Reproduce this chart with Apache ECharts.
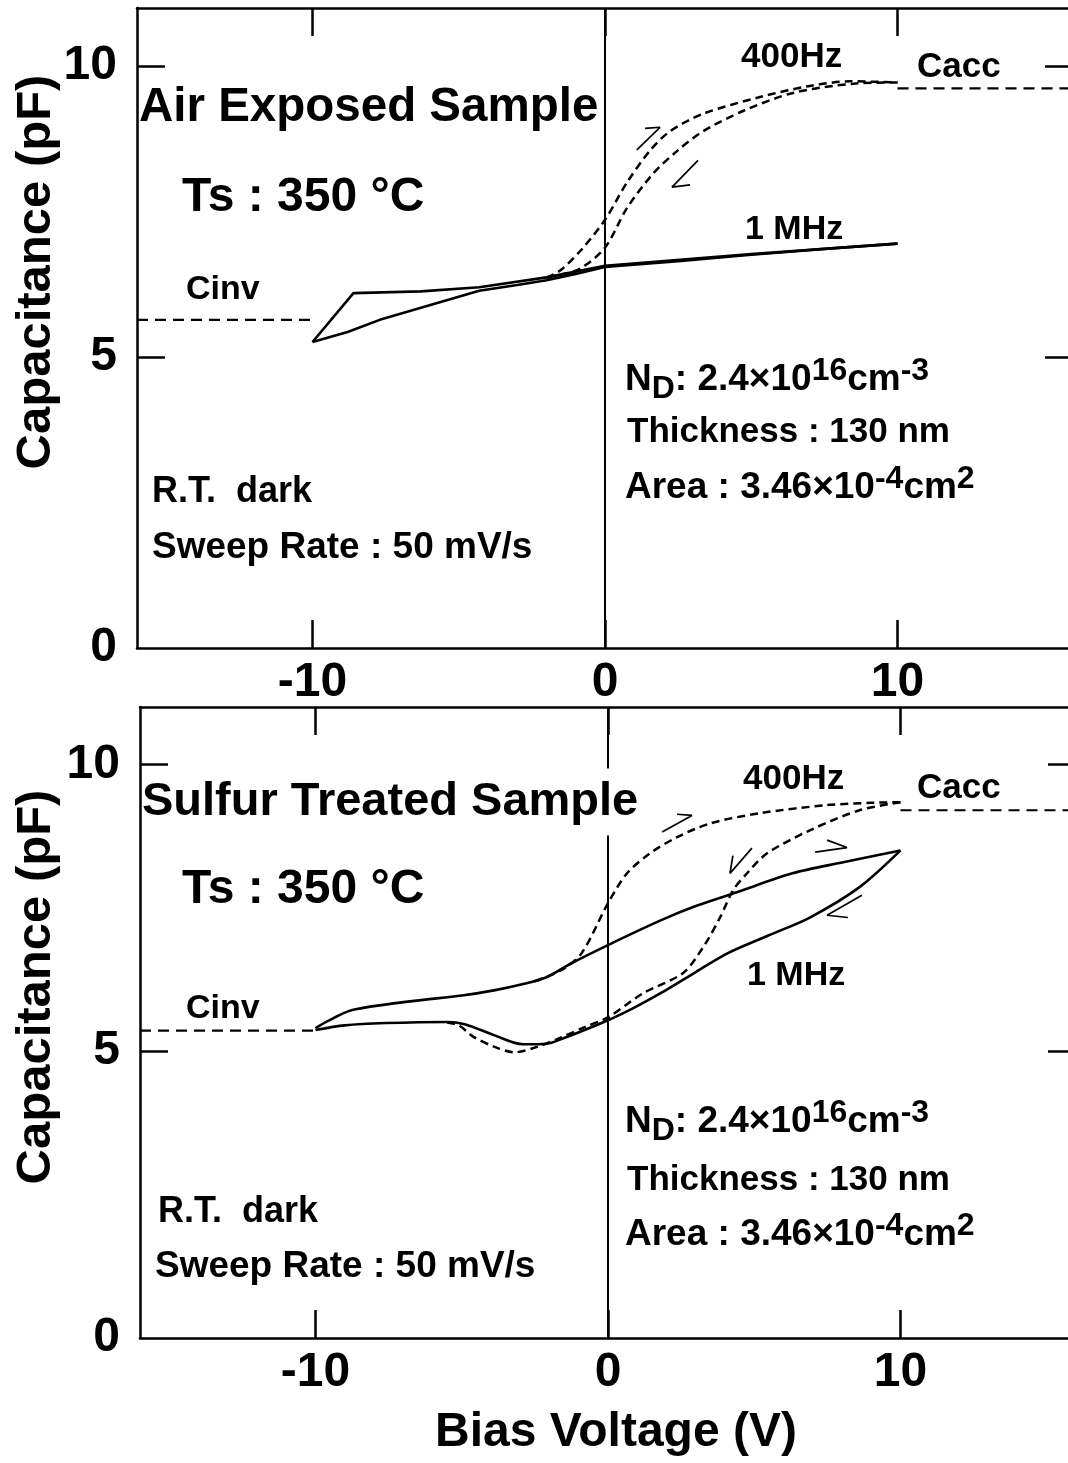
<!DOCTYPE html>
<html><head><meta charset="utf-8">
<script src="https://cdn.jsdelivr.net/npm/echarts@6/dist/echarts.min.js"></script>
<style>html,body{margin:0;padding:0;background:#fff}#chart{width:1068px;height:1463px}</style>
</head><body><div id="chart"></div>
<script>
// ---------- tick values ----------
const voltageTicks = [-10, 0, 10];
const capLabels = [0, 5, 10];
const capTickMarks = [5, 10];

// ---------- Top panel: Air exposed sample ----------
const top1MHzUp = [[-10.0, 5.26], [-8.8, 5.43], [-7.7, 5.64], [-6.0, 5.89], [-4.3, 6.14], [-3.0, 6.24], [-2.0, 6.32], [-1.0, 6.43], [0, 6.55], [2.5, 6.65], [5.0, 6.76], [7.5, 6.86], [10.0, 6.95]];
const top1MHzDown = [[10.0, 6.95], [5.0, 6.77], [0, 6.57], [-2.0, 6.37], [-4.3, 6.20], [-6.3, 6.13], [-8.6, 6.10], [-10.0, 5.26]];
const top400HzUp = [[-2.0, 6.36], [-1.5, 6.50], [-0.8, 6.85], [0, 7.36], [0.75, 8.00], [1.54, 8.55], [2.22, 8.88], [3.35, 9.18], [5.3, 9.47], [7.0, 9.66], [8.4, 9.74], [10.0, 9.72]];
const top400HzDown = [[10.0, 9.72], [8.5, 9.70], [6.43, 9.54], [4.72, 9.23], [3.35, 8.88], [2.46, 8.54], [1.64, 8.15], [0.75, 7.56], [0, 6.88], [-0.85, 6.52], [-1.5, 6.42], [-2.0, 6.37]];
const topCinv = [[-16, 5.64], [-10, 5.64]];
const topCacc = [[10, 9.62], [16, 9.62]];
const topArrowUp = [[1.09, 8.56], [1.88, 8.95], [1.37, 8.93]];
const topArrowDown = [[3.18, 8.38], [2.29, 7.92], [2.91, 7.96]];

// ---------- Bottom panel: Sulfur treated sample ----------
const bot1MHzUp = [[-10.0, 5.40], [-9.6, 5.52], [-8.8, 5.71], [-7.5, 5.82], [-6.4, 5.89], [-5.0, 5.97], [-3.9, 6.06], [-2.9, 6.17], [-2.1, 6.29], [-1.3, 6.52], [0, 6.85], [1.8, 7.28], [3.0, 7.53], [4.4, 7.77], [6.3, 8.10], [8.0, 8.29], [10.0, 8.50]];
const bot1MHzDown = [[10.0, 8.50], [8.6, 7.86], [6.9, 7.33], [5.5, 7.02], [4.1, 6.71], [3.0, 6.38], [1.8, 6.01], [0.9, 5.76], [0, 5.54], [-1.5, 5.23], [-2.1, 5.13], [-2.9, 5.12], [-3.9, 5.28], [-4.9, 5.47], [-5.5, 5.51], [-7.6, 5.49], [-9.0, 5.45], [-10.0, 5.37]];
const bot400HzUp = [[-2.5, 6.22], [-1.6, 6.41], [-0.9, 6.71], [0, 7.58], [0.65, 8.10], [1.44, 8.45], [2.36, 8.73], [3.49, 8.97], [5.2, 9.15], [7.5, 9.29], [9.0, 9.33], [10.0, 9.34]];
const bot400HzDown = [[10.0, 9.34], [8.6, 9.20], [6.9, 8.85], [5.44, 8.45], [4.75, 8.10], [4.27, 7.80], [3.83, 7.33], [3.25, 6.81], [2.56, 6.36], [1.2, 6.01], [0, 5.59], [-0.8, 5.42], [-1.6, 5.24], [-2.4, 5.08], [-3.2, 4.98], [-3.9, 5.08], [-4.6, 5.25], [-5.1, 5.45], [-5.5, 5.50]];
const botCinv = [[-16, 5.36], [-10, 5.36]];
const botCacc = [[10, 9.20], [16, 9.20]];
const botArrowA = [[1.85, 8.82], [2.87, 9.11], [2.36, 9.13]];
const botArrowB = [[4.92, 8.54], [4.17, 8.10], [4.27, 8.41]];
const botArrowC = [[7.08, 8.47], [8.17, 8.55], [7.49, 8.68]];
const botArrowD = [[8.68, 7.72], [7.49, 7.37], [8.20, 7.33]];

// ---------- chart ----------
const FONT = "'Liberation Sans', Arial, Helvetica, sans-serif";
const chart = echarts.init(document.getElementById('chart'), null, {renderer: 'canvas'});

function xAx(grid, pos, showLabels) {
  return {
    type: 'value', gridIndex: grid, position: pos, min: -16, max: 16,
    axisLine: {show: true, onZero: false, lineStyle: {color: '#000', width: 2.5}},
    axisTick: {show: true, inside: true, length: 28, lineStyle: {color: '#000', width: 2.5}, customValues: voltageTicks},
    axisLabel: {show: showLabels, customValues: voltageTicks, fontSize: 48, fontWeight: 'bold', fontFamily: FONT, color: '#000', margin: 11},
    splitLine: {show: false}
  };
}
function yAx(grid, pos, showLabels) {
  return {
    type: 'value', gridIndex: grid, position: pos, min: 0, max: 11, interval: 5,
    axisLine: {show: true, onZero: false, lineStyle: {color: '#000', width: 2.5}},
    axisTick: {show: true, inside: true, length: 28, lineStyle: {color: '#000', width: 2.5}, customValues: capTickMarks},
    axisLabel: {show: showLabels, customValues: capLabels, fontSize: 48, fontWeight: 'bold', fontFamily: FONT, color: '#000', margin: 20,
      formatter: v => (v === 11 ? '' : String(v))},
    splitLine: {show: false}
  };
}
function line(data, xi, yi, kind, extra) {
  const s = {
    type: 'line', data: data, xAxisIndex: xi, yAxisIndex: yi, symbol: 'none', silent: true,
    clip: false, smooth: false,
    lineStyle: {color: '#000', width: 2.6, type: 'solid'}
  };
  if (kind === 'dash') s.lineStyle = {color: '#000', width: 2.5, type: [8, 5]};
  if (kind === 'longdash') s.lineStyle = {color: '#000', width: 2.2, type: [11, 7]};
  if (kind === 'arrow') s.lineStyle = {color: '#000', width: 1.7, type: 'solid'};
  return Object.assign(s, extra || {});
}
const zeroLine = {
  symbol: 'none', silent: true, label: {show: false},
  lineStyle: {color: '#000', width: 2, type: 'solid'}, data: [{xAxis: 0}]
};

function T(x, y, text, size, extra) {
  return {type: 'text', x: x, y: y, z: 100, silent: true,
    style: Object.assign({text: text, fill: '#000', fontSize: size, fontWeight: 'bold', fontFamily: FONT,
      align: 'left', verticalAlign: 'middle'}, extra || {})};
}
const richStyle = {
  m: {fontSize: 37, fontWeight: 'bold', fontFamily: FONT, fill: '#000', lineHeight: 50, verticalAlign: 'middle'},
  sup: {fontSize: 32, fontWeight: 'bold', fontFamily: FONT, fill: '#000', lineHeight: 26, verticalAlign: 'top'},
  sub: {fontSize: 32, fontWeight: 'bold', fontFamily: FONT, fill: '#000', lineHeight: 34, verticalAlign: 'bottom'}
};
function ND(x, y) {
  return T(x, y, '{m|N}{sub|D}{m|: 2.4×10}{sup|16}{m|cm}{sup|-3}', 37, {rich: richStyle});
}
function AREA(x, y) {
  return T(x, y, '{m|Area : 3.46×10}{sup|-4}{m|cm}{sup|2}', 37, {rich: richStyle});
}

const graphics = [
  // top panel
  T(139, 108, 'Air Exposed Sample', 47.5),
  T(182, 198, 'Ts : 350 °C', 48),
  T(186, 290, 'Cinv', 34),
  T(741, 57, '400Hz', 35),
  T(917, 67, 'Cacc', 35),
  T(745, 230, '1 MHz', 34),
  ND(625, 380),
  T(627, 432, 'Thickness : 130 nm', 35),
  AREA(625, 488),
  T(152, 492, 'R.T.  dark', 36),
  T(152, 548, 'Sweep Rate : 50 mV/s', 37),
  // bottom panel
  T(142, 802, 'Sulfur Treated Sample', 47, {backgroundColor: '#fff', padding: [10, 4, 10, 0]}),
  T(182, 890, 'Ts : 350 °C', 48),
  T(186, 1009, 'Cinv', 34),
  T(743, 779, '400Hz', 35),
  T(917, 788, 'Cacc', 35),
  T(747, 976, '1 MHz', 34),
  ND(625, 1122),
  T(627, 1180, 'Thickness : 130 nm', 35),
  AREA(625, 1235),
  T(158, 1212, 'R.T.  dark', 36),
  T(155, 1267, 'Sweep Rate : 50 mV/s', 37),
  // axis titles
  T(616, 1433, 'Bias Voltage (V)', 48, {align: 'center'}),
  Object.assign(T(36, 272, 'Capacitance (pF)', 49, {align: 'center'}), {rotation: Math.PI / 2}),
  Object.assign(T(36, 987, 'Capacitance (pF)', 49, {align: 'center'}), {rotation: Math.PI / 2})
];

const option = {
  animation: false,
  backgroundColor: '#fff',
  grid: [
    {left: 137, top: 8, width: 936, height: 640, show: false, outerBoundsMode: 'none', containLabel: false},
    {left: 140, top: 707, width: 936, height: 631, show: false, outerBoundsMode: 'none', containLabel: false}
  ],
  xAxis: [xAx(0, 'bottom', true), xAx(0, 'top', false), xAx(1, 'bottom', true), xAx(1, 'top', false)],
  yAxis: [yAx(0, 'left', true), yAx(0, 'right', false), yAx(1, 'left', true), yAx(1, 'right', false)],
  series: [
    line(top1MHzUp, 0, 0, 'solid', {markLine: zeroLine}),
    line(top1MHzDown, 0, 0, 'solid'),
    line(top400HzUp, 0, 0, 'dash', {smooth: 0.3}),
    line(top400HzDown, 0, 0, 'dash', {smooth: 0.3}),
    line(topCinv, 0, 0, 'longdash'),
    line(topCacc, 0, 0, 'longdash'),
    line(topArrowUp, 0, 0, 'arrow'),
    line(topArrowDown, 0, 0, 'arrow'),
    line(bot1MHzUp, 2, 2, 'solid', {smooth: 0.3, markLine: zeroLine}),
    line(bot1MHzDown, 2, 2, 'solid', {smooth: 0.3}),
    line(bot400HzUp, 2, 2, 'dash', {smooth: 0.3}),
    line(bot400HzDown, 2, 2, 'dash', {smooth: 0.3}),
    line(botCinv, 2, 2, 'longdash'),
    line(botCacc, 2, 2, 'longdash'),
    line(botArrowA, 2, 2, 'arrow'),
    line(botArrowB, 2, 2, 'arrow'),
    line(botArrowC, 2, 2, 'arrow'),
    line(botArrowD, 2, 2, 'arrow')
  ],
  graphic: graphics
};
chart.setOption(option);
</script></body></html>
